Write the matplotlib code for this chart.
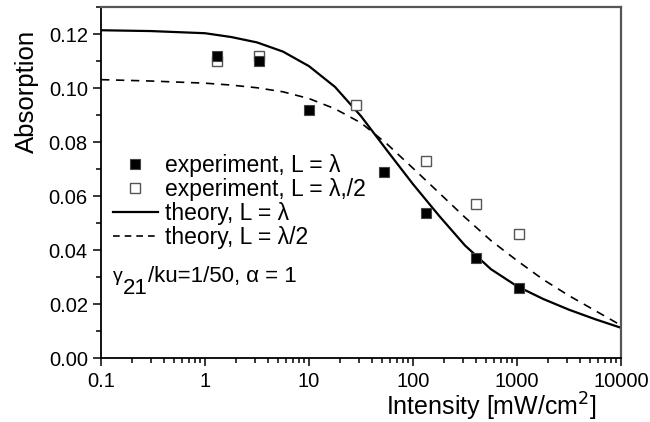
import matplotlib
matplotlib.use('Agg')
import matplotlib.pyplot as plt
from matplotlib.lines import Line2D
from matplotlib.ticker import MultipleLocator, FixedLocator, LogLocator, NullFormatter

plt.rcParams['font.family'] = ['Liberation Sans', 'DejaVu Sans']

# === Data ===
exp_I = [1.3, 3.3, 10, 53, 132, 404, 1050]
exp_A_full = [0.112, 0.110, 0.092, 0.069, 0.054, 0.037, 0.026]

exp_half_I = [1.3, 3.3, 28, 132, 404, 1050]
exp_A_half = [0.110, 0.112, 0.094, 0.073, 0.057, 0.046]

theory_I = [0.1, 0.3, 1, 1.78, 3.16, 5.62, 10, 17.8, 31.6, 56.2, 100, 178,
            316, 562, 1000, 1780, 3160, 5620, 10000]
theory_A_full = [0.1215, 0.1212, 0.1204, 0.1190, 0.1170, 0.1136, 0.1082,
                 0.1005, 0.0897, 0.0770, 0.0645, 0.0528, 0.0418, 0.0330,
                 0.0267, 0.0220, 0.0180, 0.0145, 0.0113]
theory_A_half = [0.1032, 0.1027, 0.1019, 0.1012, 0.1002, 0.0987, 0.0962,
                 0.0924, 0.0872, 0.0794, 0.0704, 0.0613, 0.0522, 0.0436,
                 0.0362, 0.0292, 0.0232, 0.0177, 0.0122]

x_ticks = [0.1, 1, 10, 100, 1000, 10000]
x_tick_labels = ['0.1', '1', '10', '100', '1000', '10000']
y_ticks = [0, 0.02, 0.04, 0.06, 0.08, 0.10, 0.12]
y_tick_labels = ['0.00', '0.02', '0.04', '0.06', '0.08', '0.10', '0.12']

# === Figure ===
W, H = 650, 422
fig = plt.figure(figsize=(6.5, 4.22), dpi=100)
ax = fig.add_axes([101 / W, 1 - 358.3 / H, 520 / W, 351 / H])

ax.plot(theory_I, theory_A_full, color='black', lw=1.6)
ax.plot(theory_I, theory_A_half, color='black', lw=1.2, dashes=(5, 4))
ax.plot(exp_half_I, exp_A_half, ls='none', marker='s', ms=7.5,
        mfc='white', mec='#555555', mew=1.0)
ax.plot(exp_I, exp_A_full, ls='none', marker='s', ms=7.5,
        mfc='black', mec='#444444', mew=0.8)

ax.set_xscale('log')
ax.set_xlim(0.1, 10000)
ax.set_ylim(0, 0.13)

ax.xaxis.set_major_locator(FixedLocator(x_ticks))
ax.set_xticklabels(x_tick_labels)
ax.xaxis.set_minor_locator(LogLocator(base=10, subs=range(2, 10), numticks=20))
ax.xaxis.set_minor_formatter(NullFormatter())
ax.yaxis.set_major_locator(FixedLocator(y_ticks))
ax.set_yticklabels(y_tick_labels)
ax.yaxis.set_minor_locator(MultipleLocator(0.01))

ax.tick_params(which='both', direction='out', top=False, right=False,
               width=1.1, labelsize=14.5)
ax.tick_params(which='major', length=6)
ax.tick_params(which='minor', length=3.5)
ax.tick_params(axis='x', pad=4)
ax.tick_params(axis='y', pad=3.5)

for side in ['top', 'right']:
    ax.spines[side].set_color('#555555')
    ax.spines[side].set_linewidth(1.6)
for side in ['left', 'bottom']:
    ax.spines[side].set_color('black')
    ax.spines[side].set_linewidth(1.3)

ax.set_xlabel('Intensity [mW/cm$^2$]', fontsize=18, x=0.75, labelpad=-0.5)
ax.set_ylabel('Absorption', fontsize=18.5, y=0.759, labelpad=7)

# === Legend ===
handles = [
    Line2D([], [], ls='none', marker='s', ms=7.5, mfc='black', mec='#444444', mew=0.8),
    Line2D([], [], ls='none', marker='s', ms=7.5, mfc='white', mec='#555555', mew=1.0),
    Line2D([], [], color='black', lw=1.6),
    Line2D([], [], color='black', lw=1.2, dashes=(4, 3)),
]
labels = ['experiment, L = λ', 'experiment, L = λ,/2',
          'theory, L = λ', 'theory, L = λ/2']
ax.legend(handles, labels, loc='upper left', bbox_to_anchor=(113 / W, 1 - 154 / H),
          bbox_transform=fig.transFigure, frameon=False, fontsize=16.5,
          handlelength=1.96, handletextpad=0.3, labelspacing=0.05,
          borderpad=0, borderaxespad=0)

# === Parameter annotation ===
fig.text(113 / W, 1 - 281 / H, 'γ', fontsize=14, va='baseline')
fig.text(123 / W, 1 - 294 / H, '21', fontsize=16, va='baseline')
fig.text(148 / W, 1 - 282 / H, '/ku=1/50, α = 1', fontsize=16, va='baseline')

fig.savefig('out.png', dpi=100)
